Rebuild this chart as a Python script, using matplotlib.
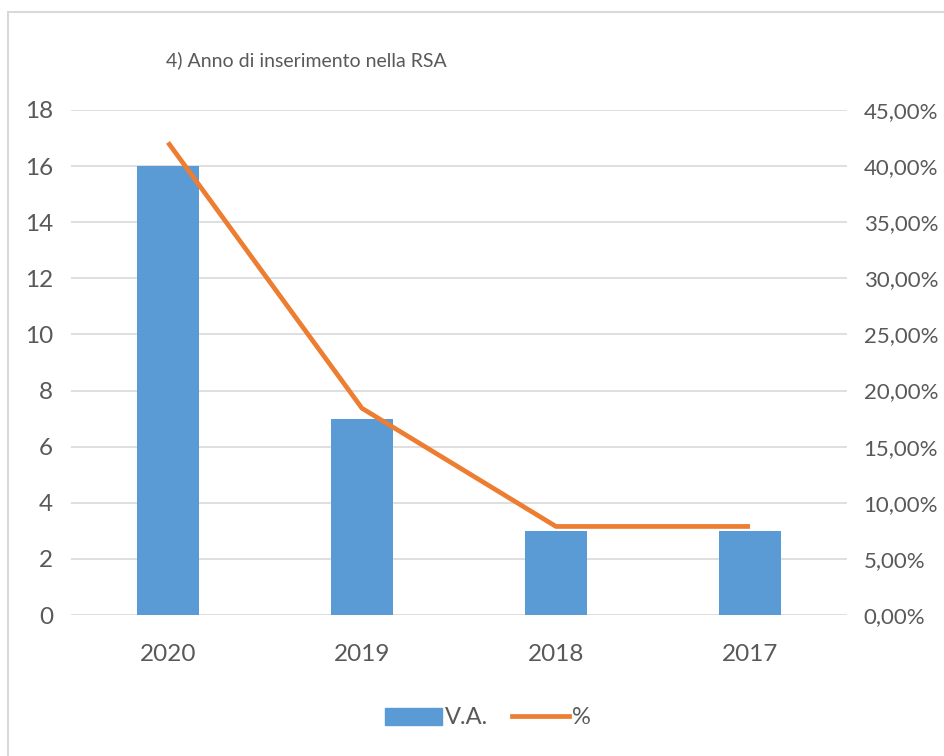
import matplotlib
matplotlib.use("Agg")
import matplotlib.pyplot as plt
from matplotlib.patches import Rectangle, Patch
from matplotlib.lines import Line2D
import numpy as np

plt.rcParams['font.family'] = ['Lato', 'DejaVu Sans']

# data
anni = ['2020', '2019', '2018', '2017']
va = [16, 7, 3, 3]
perc = [42.11, 18.42, 7.89, 7.89]
left_ticks = [0, 2, 4, 6, 8, 10, 12, 14, 16, 18]
right_ticks = [0, 5, 10, 15, 20, 25, 30, 35, 40, 45]

blue = '#5B9BD5'
orange = '#ED7D31'
grey_txt = '#595959'

fig = plt.figure(figsize=(9.44, 7.56), dpi=100)
# chart frame
fig.patches.append(Rectangle((8/944, -0.01), 1.0, 1 - 12/756 + 0.01, transform=fig.transFigure,
                             fill=False, edgecolor='#D9D9D9', linewidth=1.5))

ax = fig.add_axes([71/944, 1 - 615/756, 776/944, 505/756])
x = np.arange(len(anni))
ax.bar(x, va, width=0.32, color=blue, zorder=2)
ax.set_xlim(-0.5, len(anni) - 0.5)
ax.set_ylim(0, 18)
ax.set_yticks(left_ticks)
ax.grid(axis='y', color='#D9D9D9', linewidth=1.2, zorder=0)
ax.set_xticks(x)
ax.set_xticklabels(anni)
ax.tick_params(length=0, labelsize=17.5, colors=grey_txt)
ax.tick_params(axis='x', pad=21)
ax.tick_params(axis='y', pad=13)
for s in ax.spines.values():
    s.set_visible(False)

ax2 = ax.twinx()
ax2.plot(x, perc, color=orange, linewidth=3.4, solid_capstyle='butt', zorder=3)
ax2.set_ylim(0, 45)
ax2.set_yticks(right_ticks)
ax2.set_yticklabels([f"{v:.2f}%".replace('.', ',') for v in right_ticks])
ax2.tick_params(length=0, labelsize=16, colors=grey_txt, pad=12)
for s in ax2.spines.values():
    s.set_visible(False)

fig.text(306/944, 1 - 60/756, "4) Anno di inserimento nella RSA", ha='center', va='center',
         fontsize=14, color=grey_txt)

handles = [Patch(color=blue, label='V.A.'),
           Line2D([0], [0], color=orange, linewidth=3.4, label='%')]
fig.legend(handles=handles, loc='center', bbox_to_anchor=(488/944, 1 - 718/756), ncol=2,
           frameon=False, fontsize=17, labelcolor=grey_txt, handlelength=2.4,
           handletextpad=0.15, columnspacing=1.0)

fig.savefig("out.png", dpi=100)
